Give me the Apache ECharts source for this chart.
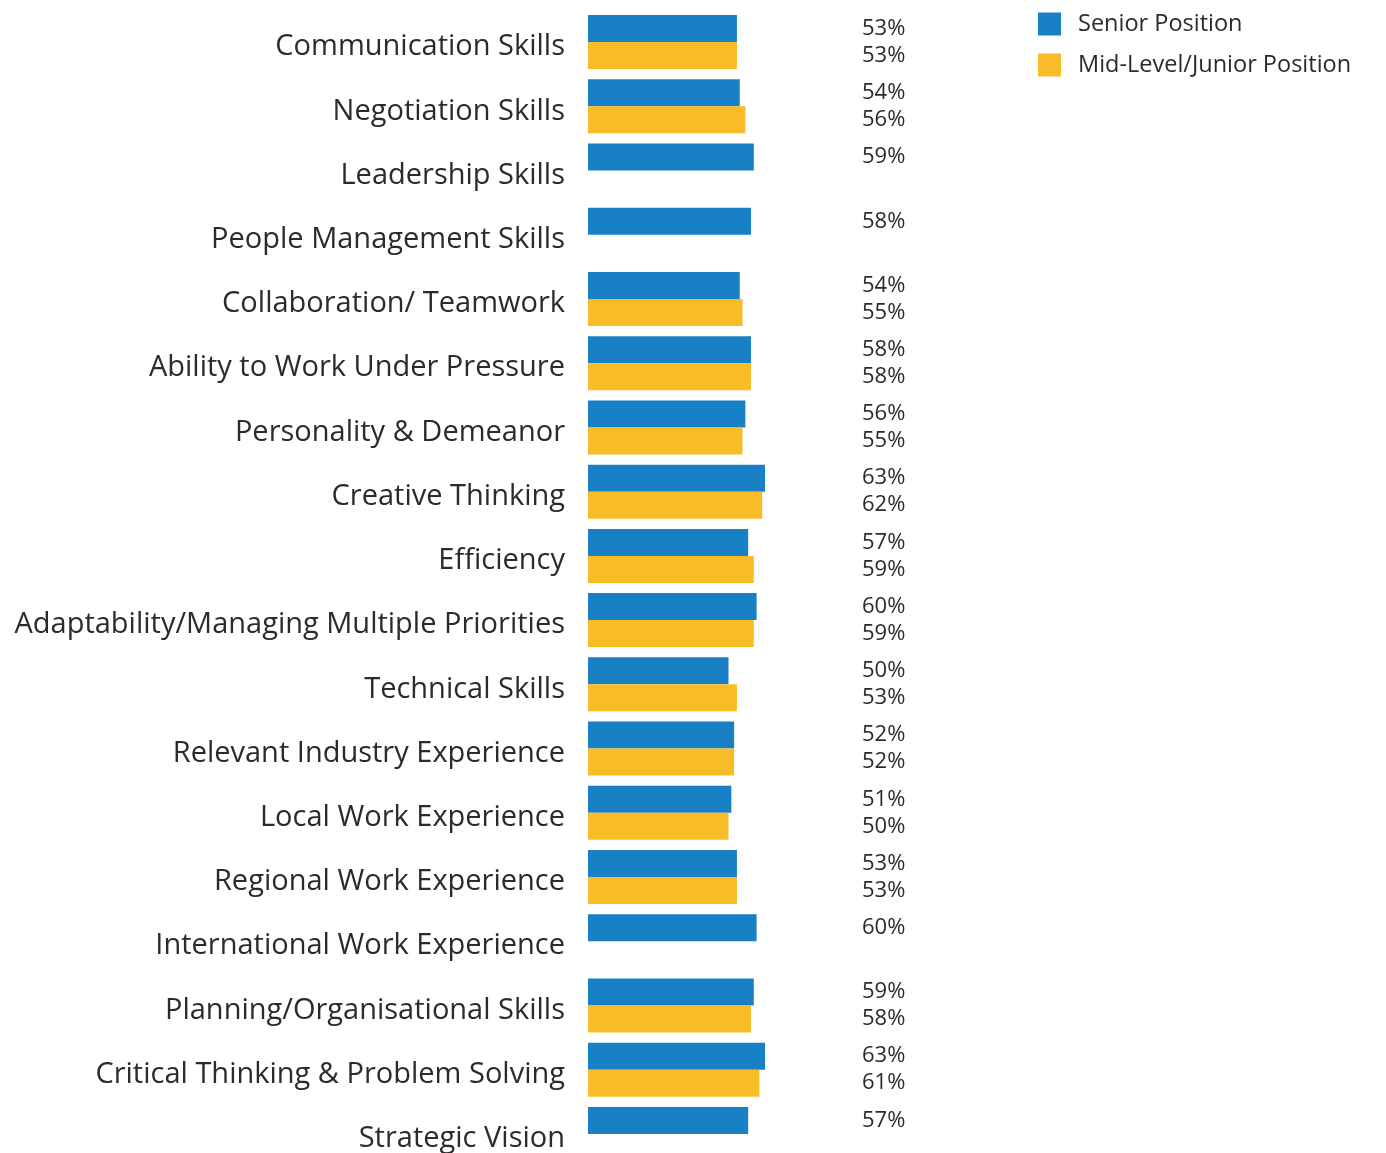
<!DOCTYPE html>
<html>
<head>
<meta charset="utf-8">
<script src="https://cdn.jsdelivr.net/npm/echarts@6/dist/echarts.min.js"></script>
<style>
  html, body { margin: 0; padding: 0; background: #fff; }
  #chart { width: 1386px; height: 1153px; }
</style>
</head>
<body>
<div id="chart"></div>
<script>
const categories = [
  'Communication Skills', 'Negotiation Skills', 'Leadership Skills', 'People Management Skills',
  'Collaboration/ Teamwork', 'Ability to Work Under Pressure', 'Personality & Demeanor',
  'Creative Thinking', 'Efficiency', 'Adaptability/Managing Multiple Priorities',
  'Technical Skills', 'Relevant Industry Experience', 'Local Work Experience',
  'Regional Work Experience', 'International Work Experience', 'Planning/Organisational Skills',
  'Critical Thinking & Problem Solving', 'Strategic Vision'
];
const seniorValues = [53, 54, 59, 58, 54, 58, 56, 63, 57, 60, 50, 52, 51, 53, 60, 59, 63, 57];
const juniorValues = [53, 56, null, null, 55, 58, 55, 62, 59, 59, 53, 52, 50, 53, null, 58, 61, null];

const fontFamily = '"Open Sans", Lato, sans-serif';
const textColor = '#2b2b2b';

const chart = echarts.init(document.getElementById('chart'));

const valueLabel = {
  show: true,
  position: 'right',
  formatter: '{c}%',
  color: textColor,
  fontFamily: fontFamily,
  fontSize: 22
};
const valueLabelLayout = { x: 862, align: 'left', verticalAlign: 'middle' };

chart.setOption({
  animation: false,
  legend: {
    orient: 'vertical',
    left: 1033,
    top: 7,
    itemWidth: 23,
    itemHeight: 23,
    itemGap: 17,
    icon: 'rect',
    textStyle: { color: textColor, fontFamily: fontFamily, fontSize: 23.5, padding: [0, 0, 0, 12] },
    data: ['Senior Position', 'Mid-Level/Junior Position']
  },
  grid: { left: 588, top: 10, width: 281, height: 1156, outerBoundsMode: 'none' },
  xAxis: {
    type: 'value',
    min: 0,
    max: 100,
    show: false
  },
  yAxis: {
    type: 'category',
    inverse: true,
    data: categories,
    axisLine: { show: false },
    axisTick: { show: false },
    axisLabel: {
      margin: 23,
      formatter: '{cat|{value}}',
      rich: {
        cat: {
          color: textColor,
          fontFamily: fontFamily,
          fontSize: 29,
          padding: [10, 0, 0, 0]
        }
      }
    }
  },
  series: [
    {
      name: 'Senior Position',
      type: 'bar',
      data: seniorValues,
      barWidth: 27,
      barGap: '0%',
      itemStyle: { color: '#1880c4' },
      label: valueLabel,
      labelLayout: valueLabelLayout
    },
    {
      name: 'Mid-Level/Junior Position',
      type: 'bar',
      data: juniorValues,
      barWidth: 27,
      barGap: '0%',
      itemStyle: { color: '#f8bc28' },
      label: valueLabel,
      labelLayout: valueLabelLayout
    }
  ]
});

window.addEventListener('resize', () => chart.resize());
</script>
</body>
</html>
